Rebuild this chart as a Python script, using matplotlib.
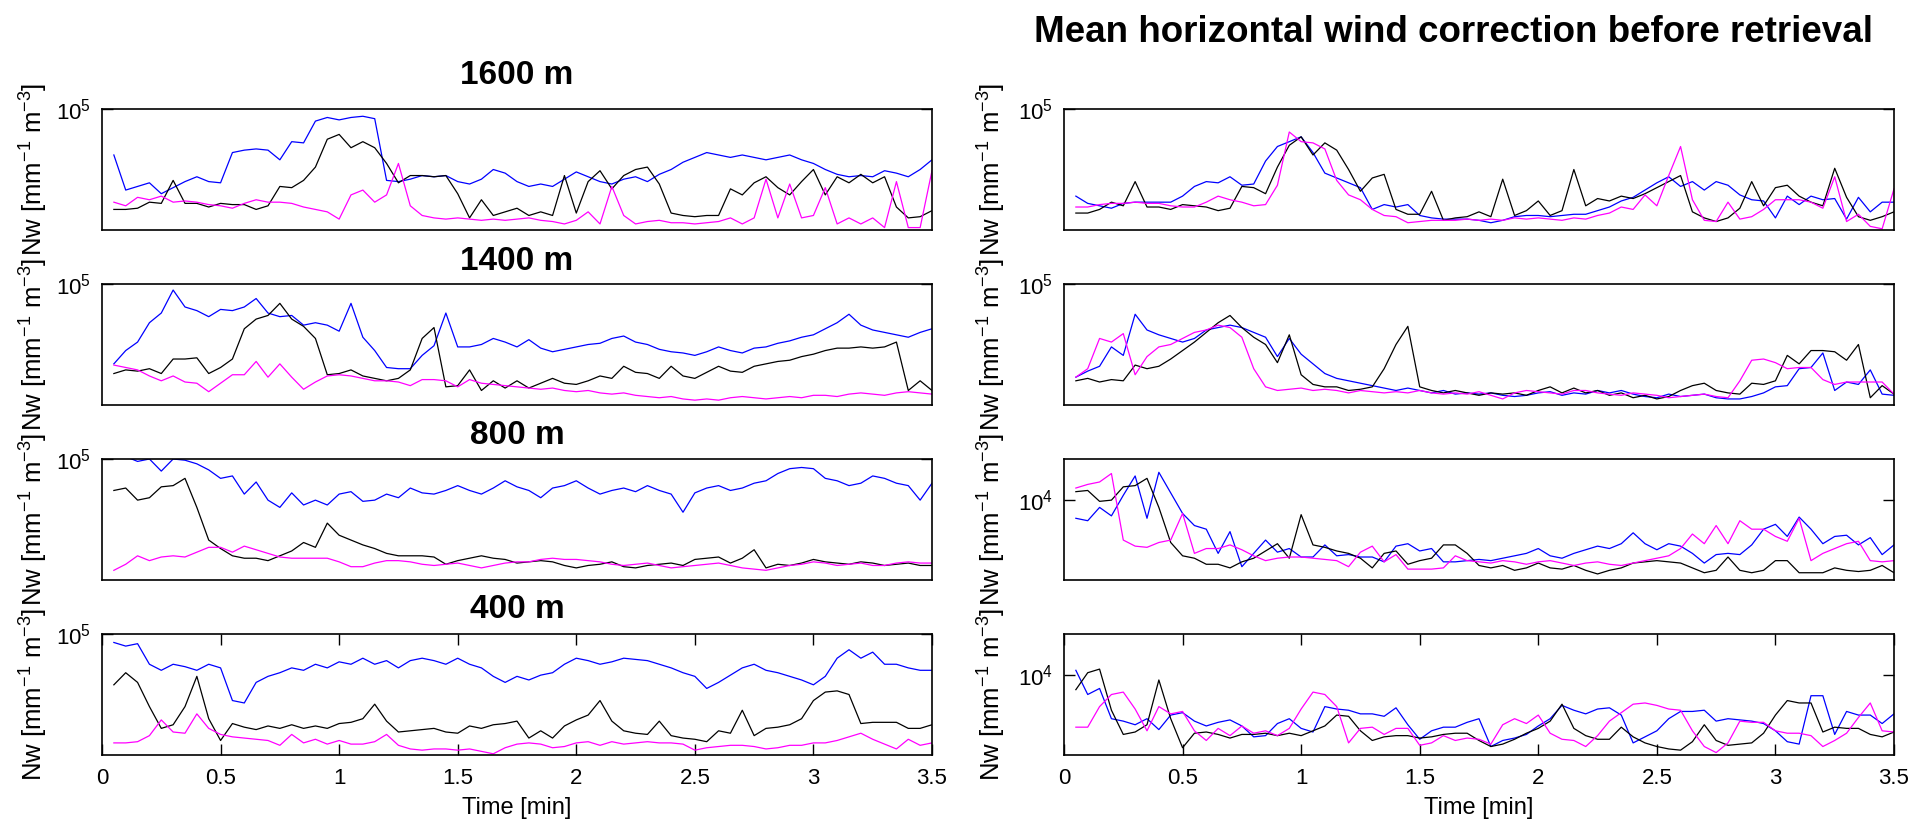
import numpy as np
import matplotlib
matplotlib.use('Agg')
import matplotlib.pyplot as plt
from matplotlib.ticker import NullLocator

plt.rcParams['font.family'] = ['Liberation Sans', 'DejaVu Sans']
plt.rcParams['mathtext.fontset'] = 'custom'
plt.rcParams['mathtext.rm'] = 'Liberation Sans'
plt.rcParams['mathtext.it'] = 'Liberation Sans:italic'
plt.rcParams['mathtext.bf'] = 'Liberation Sans:bold'

# one sample every 0.05 min
time_min = np.round(np.arange(1, 71) * 0.05, 2)

heights = ['1600 m', '1400 m', '800 m', '400 m']
main_title = 'Mean horizontal wind correction before retrieval'

# log10(Nw) -- left column
l1600_blue = [4.62,4.33,4.36,4.39,4.30,4.35,4.40,4.44,4.40,4.39,
              4.64,4.66,4.67,4.66,4.58,4.73,4.72,4.90,4.93,4.91,
              4.93,4.94,4.92,4.41,4.40,4.42,4.45,4.44,4.45,4.40,
              4.38,4.42,4.50,4.47,4.40,4.36,4.38,4.36,4.42,4.48,
              4.44,4.40,4.38,4.42,4.44,4.40,4.46,4.50,4.56,4.60,
              4.64,4.62,4.60,4.62,4.60,4.58,4.60,4.62,4.58,4.55,
              4.50,4.46,4.44,4.45,4.44,4.49,4.47,4.44,4.50,4.58]
l1600_black = [4.17,4.17,4.18,4.23,4.22,4.41,4.22,4.22,4.19,4.22,
               4.21,4.21,4.17,4.20,4.36,4.35,4.41,4.52,4.75,4.79,
               4.68,4.73,4.68,4.55,4.39,4.45,4.45,4.44,4.45,4.30,
               4.10,4.25,4.12,4.15,4.18,4.12,4.15,4.12,4.45,4.14,
               4.40,4.49,4.34,4.45,4.50,4.52,4.38,4.14,4.12,4.11,
               4.12,4.12,4.34,4.29,4.39,4.44,4.35,4.29,4.40,4.50,
               4.29,4.44,4.39,4.46,4.39,4.44,4.19,4.10,4.11,4.16]
l1600_mag = [4.23,4.20,4.27,4.25,4.28,4.23,4.24,4.23,4.21,4.20,
             4.18,4.22,4.25,4.23,4.23,4.22,4.19,4.17,4.15,4.09,
             4.29,4.33,4.23,4.29,4.55,4.20,4.12,4.10,4.09,4.10,
             4.09,4.08,4.09,4.08,4.09,4.10,4.08,4.07,4.05,4.08,
             4.15,4.05,4.36,4.12,4.05,4.07,4.08,4.06,4.06,4.05,
             4.06,4.07,4.10,4.05,4.10,4.42,4.10,4.38,4.10,4.12,
             4.35,4.05,4.10,4.05,4.10,4.02,4.40,4.02,4.02,4.49]

l1400_blue = [4.34,4.45,4.52,4.68,4.76,4.95,4.81,4.78,4.73,4.79,
              4.78,4.81,4.88,4.76,4.73,4.74,4.66,4.68,4.66,4.61,
              4.84,4.56,4.45,4.31,4.30,4.30,4.41,4.49,4.76,4.48,
              4.48,4.50,4.55,4.52,4.48,4.54,4.47,4.44,4.46,4.48,
              4.50,4.51,4.55,4.57,4.52,4.50,4.46,4.44,4.43,4.41,
              4.44,4.48,4.45,4.43,4.47,4.48,4.51,4.53,4.56,4.58,
              4.63,4.68,4.75,4.66,4.62,4.60,4.58,4.56,4.60,4.63]
l1400_black = [4.26,4.29,4.28,4.30,4.26,4.38,4.38,4.39,4.26,4.31,
               4.38,4.63,4.71,4.74,4.84,4.71,4.65,4.55,4.25,4.26,
               4.29,4.24,4.22,4.20,4.22,4.29,4.55,4.64,4.15,4.16,
               4.29,4.12,4.20,4.14,4.20,4.14,4.18,4.22,4.18,4.17,
               4.20,4.24,4.22,4.32,4.27,4.26,4.22,4.32,4.24,4.22,
               4.27,4.32,4.28,4.27,4.32,4.34,4.36,4.37,4.40,4.42,
               4.45,4.47,4.47,4.48,4.47,4.48,4.52,4.12,4.20,4.12]
l1400_mag = [4.33,4.31,4.29,4.24,4.20,4.24,4.19,4.18,4.11,4.18,
             4.25,4.25,4.36,4.23,4.34,4.23,4.13,4.19,4.24,4.25,
             4.24,4.22,4.20,4.20,4.19,4.16,4.21,4.21,4.20,4.15,
             4.21,4.18,4.17,4.16,4.15,4.14,4.13,4.14,4.12,4.11,
             4.12,4.10,4.09,4.10,4.08,4.07,4.06,4.07,4.05,4.04,
             4.05,4.04,4.06,4.07,4.06,4.05,4.06,4.07,4.06,4.08,
             4.08,4.07,4.09,4.10,4.09,4.08,4.10,4.11,4.10,4.09]

l800_blue = [5.04,5.02,4.98,5.00,4.90,5.00,4.99,4.96,4.91,4.84,
             4.86,4.71,4.81,4.66,4.60,4.72,4.62,4.66,4.62,4.71,
             4.73,4.65,4.66,4.71,4.68,4.76,4.72,4.71,4.74,4.78,
             4.74,4.71,4.76,4.82,4.77,4.74,4.68,4.76,4.78,4.82,
             4.76,4.71,4.74,4.76,4.73,4.78,4.74,4.71,4.56,4.72,
             4.76,4.78,4.74,4.76,4.80,4.82,4.88,4.92,4.93,4.92,
             4.84,4.82,4.78,4.80,4.86,4.84,4.80,4.78,4.66,4.80]
l800_black = [4.74,4.76,4.66,4.68,4.77,4.78,4.84,4.60,4.33,4.26,
              4.20,4.18,4.18,4.16,4.20,4.24,4.31,4.27,4.47,4.37,
              4.33,4.29,4.26,4.22,4.20,4.20,4.20,4.19,4.13,4.16,
              4.18,4.20,4.18,4.17,4.14,4.15,4.16,4.15,4.12,4.10,
              4.12,4.13,4.15,4.11,4.10,4.12,4.13,4.14,4.12,4.17,
              4.18,4.19,4.14,4.18,4.25,4.10,4.13,4.12,4.14,4.17,
              4.15,4.14,4.13,4.15,4.14,4.12,4.13,4.14,4.12,4.12]
l800_mag = [4.08,4.13,4.20,4.16,4.19,4.20,4.19,4.23,4.27,4.27,
            4.23,4.28,4.25,4.22,4.19,4.18,4.18,4.18,4.18,4.15,
            4.11,4.11,4.14,4.16,4.16,4.15,4.13,4.12,4.13,4.14,
            4.12,4.10,4.12,4.14,4.15,4.15,4.17,4.18,4.17,4.17,
            4.16,4.15,4.13,4.12,4.13,4.14,4.12,4.10,4.11,4.12,
            4.13,4.14,4.12,4.10,4.09,4.08,4.10,4.12,4.13,4.15,
            4.14,4.12,4.13,4.14,4.12,4.12,4.14,4.15,4.14,4.14]

l400_blue = [4.93,4.90,4.92,4.75,4.70,4.75,4.73,4.70,4.75,4.72,
             4.45,4.43,4.60,4.65,4.68,4.72,4.70,4.75,4.72,4.77,
             4.75,4.80,4.75,4.78,4.72,4.78,4.80,4.78,4.75,4.80,
             4.75,4.72,4.65,4.60,4.65,4.62,4.66,4.68,4.75,4.80,
             4.78,4.75,4.77,4.80,4.79,4.78,4.75,4.72,4.68,4.65,
             4.55,4.60,4.66,4.72,4.75,4.70,4.68,4.65,4.62,4.58,
             4.65,4.80,4.87,4.80,4.85,4.75,4.75,4.72,4.70,4.70]
l400_black = [4.58,4.68,4.60,4.40,4.22,4.25,4.40,4.65,4.30,4.12,
              4.26,4.23,4.21,4.24,4.22,4.25,4.22,4.24,4.22,4.26,
              4.27,4.30,4.42,4.28,4.19,4.20,4.21,4.22,4.19,4.18,
              4.24,4.22,4.25,4.26,4.28,4.14,4.20,4.14,4.24,4.29,
              4.33,4.45,4.28,4.20,4.18,4.17,4.28,4.16,4.14,4.13,
              4.11,4.20,4.18,4.37,4.16,4.22,4.23,4.25,4.30,4.45,
              4.52,4.53,4.50,4.26,4.27,4.27,4.27,4.22,4.22,4.25]
l400_mag = [4.10,4.10,4.11,4.16,4.29,4.19,4.18,4.34,4.22,4.17,
            4.15,4.14,4.13,4.12,4.08,4.17,4.10,4.13,4.09,4.12,
            4.09,4.09,4.11,4.17,4.08,4.05,4.04,4.05,4.05,4.04,
            4.05,4.03,4.01,4.06,4.09,4.10,4.09,4.06,4.07,4.10,
            4.11,4.08,4.11,4.09,4.10,4.11,4.10,4.10,4.09,4.04,
            4.06,4.07,4.08,4.08,4.07,4.05,4.06,4.08,4.08,4.10,
            4.10,4.12,4.15,4.18,4.13,4.09,4.05,4.13,4.08,4.10]

# log10(Nw) -- right column (mean horizontal wind correction)
r1600_blue = [4.28,4.22,4.20,4.18,4.22,4.23,4.23,4.23,4.23,4.28,
              4.36,4.40,4.39,4.44,4.37,4.38,4.57,4.69,4.73,4.77,
              4.64,4.47,4.43,4.39,4.35,4.17,4.21,4.19,4.21,4.12,
              4.10,4.09,4.09,4.09,4.08,4.06,4.08,4.11,4.12,4.12,
              4.11,4.12,4.13,4.13,4.16,4.19,4.24,4.27,4.33,4.39,
              4.44,4.36,4.40,4.33,4.40,4.37,4.29,4.25,4.24,4.10,
              4.28,4.21,4.28,4.25,4.26,4.09,4.27,4.15,4.23,4.23]
r1600_black = [4.14,4.14,4.17,4.23,4.20,4.40,4.19,4.19,4.17,4.21,
               4.20,4.19,4.16,4.18,4.36,4.35,4.30,4.52,4.70,4.77,
               4.62,4.72,4.66,4.50,4.32,4.43,4.46,4.17,4.13,4.13,
               4.32,4.08,4.10,4.11,4.15,4.11,4.42,4.12,4.16,4.24,
               4.12,4.16,4.50,4.20,4.26,4.24,4.28,4.26,4.30,4.35,
               4.40,4.45,4.15,4.10,4.07,4.10,4.18,4.40,4.20,4.35,
               4.37,4.28,4.23,4.20,4.51,4.27,4.11,4.08,4.11,4.15]
r1600_mag = [4.19,4.19,4.21,4.22,4.22,4.23,4.22,4.22,4.20,4.19,
             4.19,4.23,4.28,4.25,4.23,4.20,4.21,4.37,4.81,4.73,
             4.72,4.67,4.41,4.29,4.25,4.17,4.12,4.11,4.06,4.07,
             4.08,4.08,4.08,4.09,4.08,4.09,4.08,4.10,4.09,4.10,
             4.09,4.08,4.10,4.09,4.12,4.14,4.19,4.17,4.29,4.20,
             4.45,4.69,4.25,4.08,4.07,4.23,4.09,4.11,4.17,4.25,
             4.25,4.25,4.23,4.18,4.44,4.07,4.13,4.03,4.01,4.34]

r1400_blue = [4.23,4.28,4.32,4.48,4.41,4.75,4.62,4.58,4.55,4.52,
              4.55,4.62,4.64,4.66,4.64,4.60,4.56,4.40,4.55,4.42,
              4.34,4.26,4.22,4.20,4.18,4.16,4.14,4.12,4.14,4.12,
              4.10,4.12,4.09,4.10,4.09,4.10,4.08,4.07,4.08,4.10,
              4.11,4.08,4.10,4.09,4.12,4.10,4.12,4.09,4.07,4.06,
              4.09,4.07,4.08,4.09,4.06,4.05,4.05,4.07,4.10,4.15,
              4.16,4.30,4.31,4.43,4.12,4.19,4.17,4.29,4.09,4.08]
r1400_black = [4.20,4.22,4.19,4.21,4.20,4.33,4.30,4.32,4.38,4.45,
               4.52,4.60,4.68,4.74,4.64,4.56,4.50,4.35,4.58,4.25,
               4.17,4.15,4.15,4.12,4.13,4.15,4.30,4.50,4.65,4.15,
               4.12,4.10,4.12,4.10,4.08,4.10,4.09,4.10,4.08,4.12,
               4.15,4.10,4.14,4.10,4.12,4.08,4.10,4.06,4.08,4.05,
               4.07,4.12,4.16,4.18,4.12,4.10,4.09,4.18,4.17,4.20,
               4.41,4.34,4.45,4.45,4.44,4.37,4.50,4.06,4.16,4.09]
r1400_mag = [4.23,4.30,4.55,4.52,4.59,4.25,4.40,4.48,4.50,4.55,
             4.60,4.62,4.66,4.64,4.56,4.30,4.15,4.12,4.13,4.14,
             4.12,4.13,4.12,4.10,4.12,4.11,4.10,4.11,4.10,4.12,
             4.10,4.09,4.10,4.09,4.11,4.08,4.05,4.10,4.12,4.11,
             4.10,4.09,4.12,4.12,4.10,4.09,4.08,4.10,4.09,4.08,
             4.06,4.07,4.08,4.09,4.07,4.06,4.20,4.37,4.38,4.35,
             4.30,4.31,4.31,4.21,4.17,4.19,4.19,4.19,4.19,4.09]

r800_blue = [3.85,3.83,3.94,3.87,4.04,4.20,3.85,4.23,4.06,3.89,
             3.79,3.76,3.56,3.74,3.45,3.56,3.67,3.57,3.60,3.53,
             3.53,3.63,3.54,3.55,3.53,3.53,3.49,3.62,3.64,3.58,
             3.60,3.49,3.49,3.50,3.51,3.50,3.52,3.54,3.56,3.60,
             3.54,3.52,3.56,3.59,3.62,3.60,3.64,3.73,3.64,3.59,
             3.64,3.62,3.56,3.48,3.55,3.56,3.55,3.63,3.76,3.80,
             3.70,3.86,3.76,3.64,3.70,3.71,3.63,3.69,3.55,3.63]
r800_black = [4.07,4.08,3.99,4.00,4.11,4.12,4.18,3.94,3.65,3.54,
              3.52,3.47,3.47,3.44,3.49,3.52,3.58,3.64,3.52,3.88,
              3.63,3.61,3.58,3.56,3.52,3.44,3.56,3.58,3.47,3.50,
              3.52,3.63,3.63,3.56,3.46,3.44,3.46,3.42,3.44,3.48,
              3.44,3.43,3.46,3.42,3.39,3.42,3.44,3.48,3.49,3.50,
              3.49,3.48,3.44,3.40,3.42,3.53,3.42,3.40,3.42,3.50,
              3.50,3.40,3.40,3.40,3.44,3.42,3.41,3.42,3.46,3.40]
r800_mag = [4.10,4.13,4.15,4.22,3.67,3.62,3.61,3.65,3.67,3.89,
            3.56,3.60,3.60,3.63,3.59,3.54,3.50,3.52,3.53,3.53,
            3.52,3.51,3.50,3.45,3.57,3.62,3.49,3.55,3.43,3.43,
            3.43,3.44,3.54,3.50,3.49,3.48,3.50,3.49,3.47,3.49,
            3.50,3.48,3.46,3.48,3.49,3.47,3.46,3.48,3.50,3.52,
            3.54,3.60,3.72,3.64,3.79,3.64,3.83,3.76,3.76,3.70,
            3.66,3.85,3.50,3.56,3.60,3.64,3.66,3.50,3.49,3.50]

r400_blue = [4.04,3.84,3.89,3.64,3.62,3.59,3.64,3.55,3.67,3.69,
             3.62,3.58,3.61,3.63,3.58,3.49,3.50,3.60,3.64,3.56,
             3.53,3.74,3.72,3.71,3.68,3.68,3.66,3.73,3.59,3.47,
             3.54,3.57,3.57,3.61,3.64,3.41,3.46,3.48,3.51,3.58,
             3.64,3.75,3.71,3.68,3.72,3.73,3.67,3.44,3.49,3.54,
             3.64,3.70,3.70,3.71,3.62,3.64,3.63,3.62,3.60,3.54,
             3.45,3.43,3.83,3.83,3.51,3.70,3.67,3.67,3.60,3.68]
r400_black = [3.88,4.02,4.05,3.71,3.51,3.53,3.59,3.96,3.64,3.40,
              3.52,3.53,3.51,3.48,3.51,3.51,3.52,3.50,3.52,3.50,
              3.54,3.58,3.67,3.66,3.54,3.46,3.49,3.50,3.50,3.48,
              3.49,3.51,3.52,3.52,3.46,3.41,3.43,3.47,3.52,3.56,
              3.62,3.76,3.56,3.50,3.47,3.47,3.57,3.49,3.44,3.41,
              3.39,3.38,3.45,3.59,3.46,3.42,3.43,3.44,3.52,3.67,
              3.79,3.77,3.77,3.53,3.57,3.56,3.56,3.51,3.49,3.53]
r400_mag = [3.57,3.57,3.74,3.84,3.86,3.72,3.54,3.74,3.68,3.70,
            3.54,3.46,3.56,3.50,3.58,3.52,3.54,3.50,3.56,3.72,
            3.86,3.84,3.74,3.44,3.56,3.57,3.51,3.56,3.56,3.42,
            3.44,3.50,3.46,3.48,3.47,3.43,3.59,3.64,3.60,3.67,
            3.52,3.47,3.46,3.41,3.50,3.62,3.69,3.76,3.77,3.75,
            3.72,3.71,3.54,3.41,3.36,3.44,3.62,3.61,3.61,3.54,
            3.52,3.52,3.50,3.41,3.46,3.52,3.65,3.77,3.54,3.53]

left_rows = [(l1600_blue, l1600_black, l1600_mag),
             (l1400_blue, l1400_black, l1400_mag),
             (l800_blue, l800_black, l800_mag),
             (l400_blue, l400_black, l400_mag)]
right_rows = [(r1600_blue, r1600_black, r1600_mag),
              (r1400_blue, r1400_black, r1400_mag),
              (r800_blue, r800_black, r800_mag),
              (r400_blue, r400_black, r400_mag)]

# axis limits (log10) and the single labelled decade per row
left_lims = [(4, 5), (4, 5), (4, 5), (4, 5)]
right_lims = [(4, 5), (4, 5), (3.34, 4.34), (3.34, 4.34)]
left_ticks = [1e5, 1e5, 1e5, 1e5]
right_ticks = [1e5, 1e5, 1e4, 1e4]

colors = ['#0000ff', 'k', '#ff00ff']
W, H = 1910, 823
fig = plt.figure(figsize=(W / 100, H / 100), dpi=100)

col_x = [102, 1064]
row_top = [109, 284, 459, 634]
ax_w, ax_h = 830, 121
title_y = [75, 262, 435, 609]
ylab_x = [34, 992]

for c, (rows, lims, ticks) in enumerate([(left_rows, left_lims, left_ticks),
                                          (right_rows, right_lims, right_ticks)]):
    for r in range(4):
        ax = fig.add_axes([col_x[c] / W, 1 - (row_top[r] + ax_h) / H, ax_w / W, ax_h / H])
        for series, col in zip(rows[r], colors):
            ax.plot(time_min, 10 ** np.array(series), color=col, lw=0.9)
        ax.set_yscale('log')
        ax.set_ylim(10 ** lims[r][0], 10 ** lims[r][1])
        ax.set_xlim(0, 3.5)
        ax.set_yticks([ticks[r]])
        ax.yaxis.set_minor_locator(NullLocator())
        ax.tick_params(axis='y', which='both', direction='in', length=8, width=1,
                       right=True, labelsize=16, pad=8)
        for sp in ax.spines.values():
            sp.set_linewidth(1.2)
        if r == 3:
            ax.set_xticks([0, 0.5, 1, 1.5, 2, 2.5, 3, 3.5])
            ax.set_xticklabels(['0', '0.5', '1', '1.5', '2', '2.5', '3', '3.5'])
            ax.tick_params(axis='x', direction='in', length=8, width=1, top=True,
                           labelsize=16, pad=9)
            ax.set_xlabel('Time [min]', fontsize=17, labelpad=6)
        else:
            ax.set_xticks([])
        fig.text((ylab_x[c]) / W, 1 - (row_top[r] + ax_h / 2) / H,
                 'Nw [mm$^{-1}$ m$^{-3}$]', rotation=90, fontsize=18.5,
                 ha='center', va='center')
        if c == 0:
            fig.text((col_x[0] + ax_w / 2) / W, 1 - title_y[r] / H, heights[r],
                     fontsize=24, fontweight='bold', ha='center', va='center')

fig.text(1453 / W, 1 - 33 / H, main_title, fontsize=26.5, fontweight='bold',
         ha='center', va='center')

fig.savefig('out.png', dpi=100)
